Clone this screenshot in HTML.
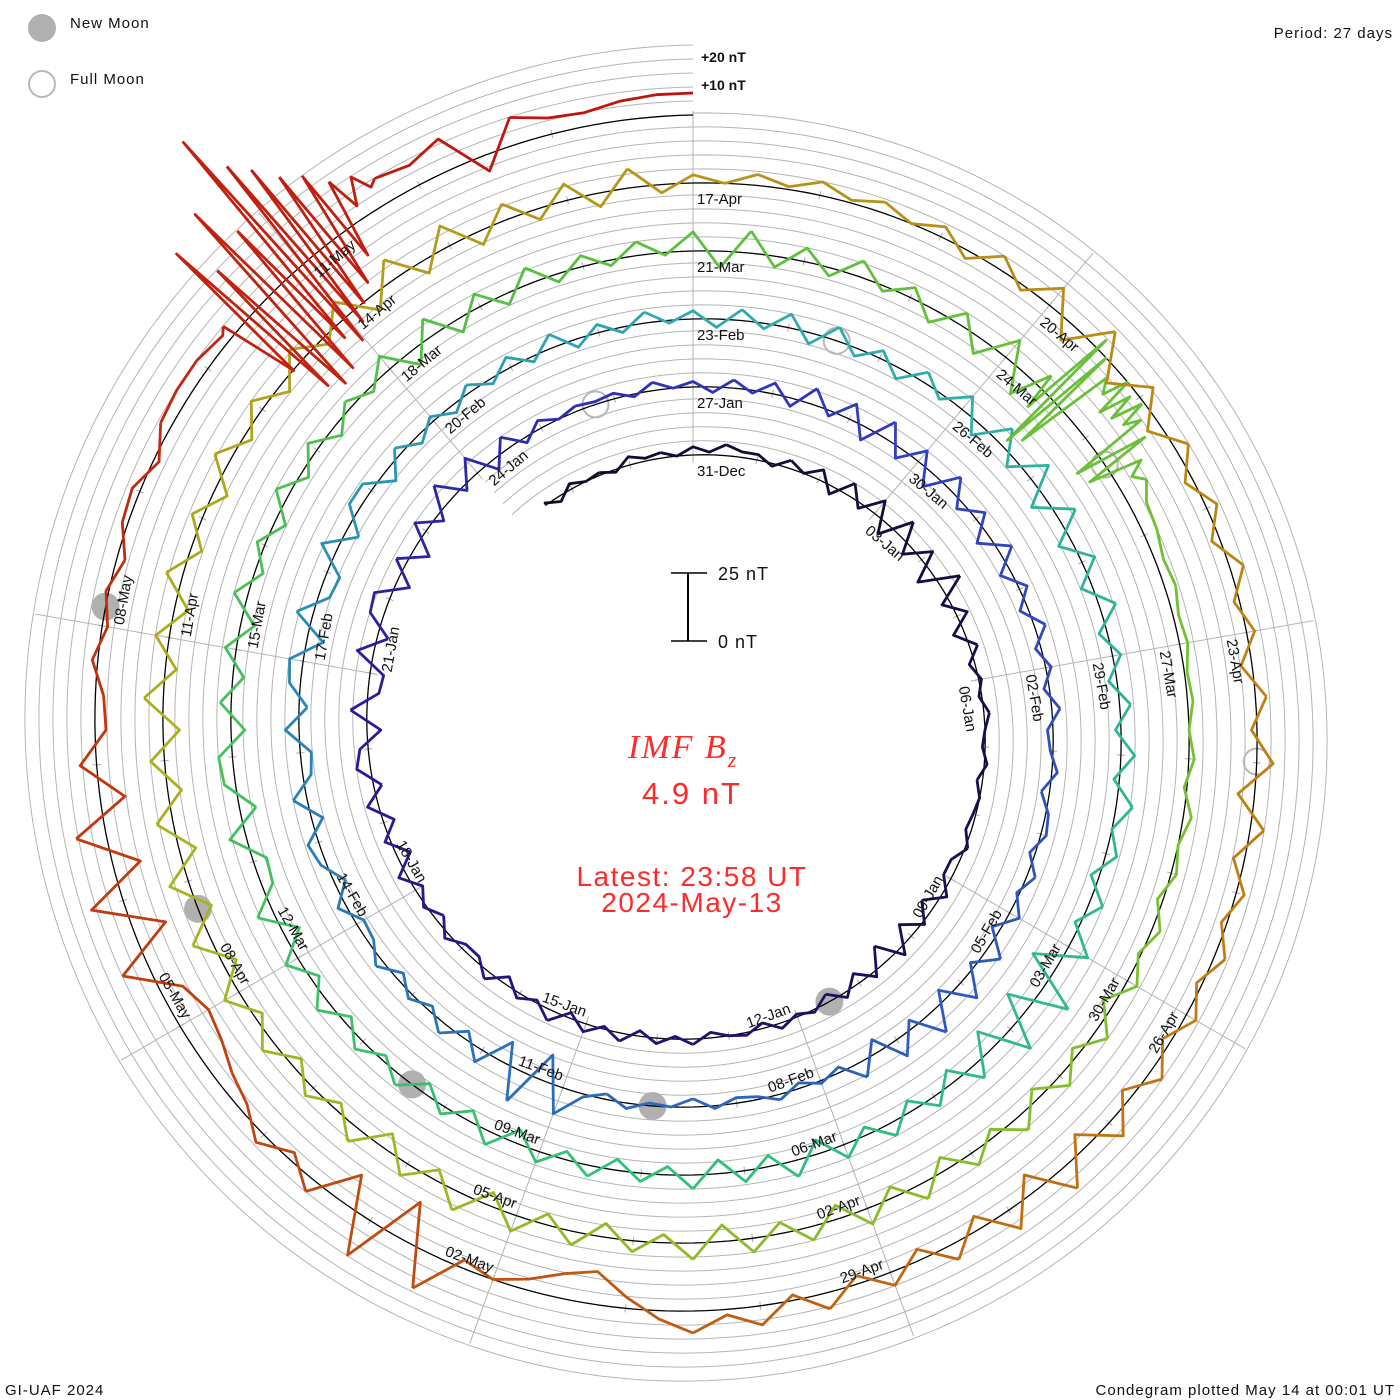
<!DOCTYPE html>
<html><head><meta charset="utf-8"><title>IMF Bz Condegram</title>
<style>
html,body{margin:0;padding:0;background:#fff;}
svg{display:block;font-family:"Liberation Sans",sans-serif;}
.lbl{font-size:15px;fill:#111;}
</style></head>
<body>
<svg id="chart" xmlns="http://www.w3.org/2000/svg" width="1400" height="1400" viewBox="0 0 1400 1400">
  <rect x="0" y="0" width="1400" height="1400" fill="#fff"/>
  <g id="grid"></g>
  <g id="moons"></g>
  <g id="baseline"></g>
  <g id="series"></g>
  <g id="labels"></g>

  <g>
    <circle cx="42" cy="28" r="14" fill="#b0b0b0"/>
    <text x="70" y="28" font-size="15" letter-spacing="1" fill="#111">New Moon</text>
    <circle cx="42" cy="84" r="13" fill="none" stroke="#b8b8b8" stroke-width="2"/>
    <text x="70" y="84" font-size="15" letter-spacing="1" fill="#111">Full Moon</text>
  </g>
  <text x="1393" y="38" font-size="15" letter-spacing="1" text-anchor="end" fill="#111">Period: 27 days</text>
  <text x="701" y="62" font-size="14" font-weight="bold" fill="#111">+20 nT</text>
  <text x="701" y="90" font-size="14" font-weight="bold" fill="#111">+10 nT</text>

  <g>
    <line x1="688" y1="573" x2="688" y2="641" stroke="#000" stroke-width="2"/>
    <line x1="671" y1="573" x2="707" y2="573" stroke="#000" stroke-width="1.5"/>
    <line x1="671" y1="641" x2="707" y2="641" stroke="#000" stroke-width="1.5"/>
    <text x="718" y="580" font-size="18" letter-spacing="1" fill="#111">25 nT</text>
    <text x="718" y="648" font-size="18" letter-spacing="1" fill="#111">0 nT</text>
  </g>

  <g fill="#ff2a2a">
    <text x="628" y="758" font-family="'Liberation Serif',serif" font-style="italic" font-size="34" letter-spacing="2">IMF B<tspan font-size="22" dy="9">z</tspan></text>
    <text x="692" y="804" font-size="31" letter-spacing="2" text-anchor="middle">4.9 nT</text>
    <text x="692" y="886" font-size="28" letter-spacing="1.5" text-anchor="middle">Latest: 23:58 UT</text>
    <text x="692" y="912" font-size="28" letter-spacing="1.5" text-anchor="middle">2024-May-13</text>
  </g>

  <text x="5" y="1395" font-size="15" letter-spacing="1" fill="#111">GI-UAF 2024</text>
  <text x="1395" y="1395" font-size="15" letter-spacing="1" text-anchor="end" fill="#111">Condegram plotted May 14 at 00:01 UT</text>
</svg>
<script>
// ---- data ----
const bzStart = -2.5;   // days since 31-Dec 00 UT
const bzStep = 0.25;    // days
const bzValues = [
 1,-2,2,0, 1,-1,3,1, 2,0,
 3,1,4,2, 2,-1,3,0, 4,-3,5,-2, 6,-5,7,-4, 5,-6,8,-3, 4,-4,3,-2, 1,-1,2,0, -1,1,-2,0, -1,-2,1,-3,
 -3,2,-5,1, -6,3,-7,2, -4,2,-3,1, -1,2,-2,1, 0,-2,2,-1, 2,-2,3,-1, 3,-2,4,-1, 2,-3,3,-2, -2,2,-3,1,
 -3,3,-5,2, -4,4,-3,5, 3,-5,6,-4, -5,6,-4,5, 6,-5,4,-6, 5,-3,8,-2, 7,-4,5,-2, 3,0,2,1, 2,-1,3,0,
 2,-2,3,-1, 4,-3,6,-2, 6,-5,7,-4, 5,-6,6,-3, 4,-5,5,-4, 3,-3,4,-2, 2,-2,3,-2, -1,2,-3,1, 2,-2,3,-1,
 4,-3,6,-2, 8,-4,9,-3, 7,-5,6,-2, 1,-2,2,-1, -2,1,-3,0, -1,2,-2,1, 10,-10,12,-8, 5,-3,4,-2, 2,-3,3,-2,
 -3,3,-4,2, 4,-4,5,-3, -4,5,-3,4, 5,-6,6,-4, -5,6,-5,4, 4,-5,3,-3, 2,-3,3,-2, 4,-2,5,-3, 3,-2,4,-1,
 3,-3,4,-2, 5,-4,5,-3, 3,-4,4,-2, 6,-5,7,-4, 8,-6,7,-5, 5,-4,6,-3, 3,-3,4,-2, 5,-2,6,0, 4,-3,5,-2,
 8,-10,12,-9, 10,-8,6,-5, 4,-4,5,-3, 5,-5,6,-4, 4,-5,5,-3, 3,-4,4,-3, 4,-5,5,-4, 3,-4,4,-2, 4,-3,5,-3,
 5,-6,6,-4, -5,6,-6,4, 5,-5,4,-4, 4,-5,5,-3, 3,-4,5,-3, 4,-4,3,-2, 6,-6,7,-5, 5,-4,6,-3, 4,-2,5,-1,
 7,-6,8,-4, 5,-3,6,-2, 4,-5,5,-6, 8,-9,10,-8, 15,10,8,6, 5,3,4,2, 3,1,2,0, 2,-1,3,0, 2,-2,3,-1,
 4,-4,5,-3, 5,-4,6,-3, 5,-5,6,-4, 6,-5,5,-4, 5,-6,6,-3, 4,-5,5,-4, 6,-5,7,-4, 5,-6,6,-3, 4,-4,5,-3,
 6,-5,7,-5, 7,-6,6,-5, 5,-6,7,-4, 5,-5,6,-4, 4,-5,6,-3, 5,-4,6,-3, 7,-6,8,-5, 8,-5,6,-4, 6,-5,7,-3,
 3,0,4,1, 5,1,4,0, 4,-3,5,-2, 8,-7,9,-6, 6,-5,5,-3, 4,-3,5,-2, 3,-4,4,-2, 6,-6,5,-4, 3,-2,4,-2,
 4,-3,5,-4, 7,-6,9,-7, 8,-5,6,-4, 5,-3,6,-2, 7,2,8,3, -4,-12,-9,-4, 0,-3,14,-15, 15,-12,5,-3, 4,-3,-6,-10,
 -12,-8,10,-12, 12,-10,11,-9, 6,-4,-3,2, -2,1,-3,2, 3,-2,4,5, 5,3,4,2, 8,6,10,10, 8,12,-6,10, 6,5,7,8,
 8
];
const stormMarT  = [84.40,84.45,84.50,84.55,84.60,84.65,84.72,84.80,84.85,84.90,84.95,85.00,85.05,85.10,85.15,85.22,85.28,85.35,85.42,85.50,85.58];
const stormMarBz = [6,-8,29,-22,25,-18,20,15,25,10,22,12,24,14,20,-10,18,-8,12,6,10];
const stormMayT  = [131.30,131.40,131.45,131.50,131.55,131.62,131.70,131.76,131.82,131.88,131.93,131.98,132.03,132.08,132.13,132.18,132.24,132.30,132.36,132.42,132.48,132.55,132.62,132.70];
const stormMayBz = [5,-25,35,-38,20,-42,40,-40,25,-30,62,-35,45,-30,38,-25,30,-20,25,-12,18,5,15,8];
const newMoonT  = [11.5, 40.96, 70.38, 99.76, 129.14];
const fullMoonT = [25.75, 55.52, 85.29, 114.99];
const labelText = ["31-Dec","03-Jan","06-Jan","09-Jan","12-Jan","15-Jan","18-Jan","21-Jan","24-Jan",
 "27-Jan","30-Jan","02-Feb","05-Feb","08-Feb","11-Feb","14-Feb","17-Feb","20-Feb",
 "23-Feb","26-Feb","29-Feb","03-Mar","06-Mar","09-Mar","12-Mar","15-Mar","18-Mar",
 "21-Mar","24-Mar","27-Mar","30-Mar","02-Apr","05-Apr","08-Apr","11-Apr","14-Apr",
 "17-Apr","20-Apr","23-Apr","26-Apr","29-Apr","02-May","05-May","08-May","11-May"];

// ---- geometry ----
const NS = "http://www.w3.org/2000/svg";
const CX = 693, CY = 730, R0 = 275, DR = 68, K = 2.75, P = 27;
function radius(t, v) { return R0 + DR * t / P + K * v; }
function pt(t, v) {
  const a = 2 * Math.PI * t / P, r = radius(t, v);
  return [CX + r * Math.sin(a), CY - r * Math.cos(a)];
}
function mk(tag, attrs) {
  const e = document.createElementNS(NS, tag);
  for (const k in attrs) e.setAttribute(k, attrs[k]);
  return e;
}
const colT = [-2.5, 10, 20, 30, 45, 54, 67, 80, 90, 100, 108, 117, 124, 130, 135];
const colH = ["#140a28","#1e0c5a","#2a1a9a","#3040c0","#2a78b8","#30aab0","#30c07c","#58c040","#7cc030","#a8b420","#b89418","#c07a12","#c04c10","#c02c10","#c01010"];
function hex2(h){return [parseInt(h.substr(1,2),16),parseInt(h.substr(3,2),16),parseInt(h.substr(5,2),16)];}
function colorAt(t) {
  if (t <= colT[0]) return colH[0];
  for (let i = 1; i < colT.length; i++) {
    if (t <= colT[i]) {
      const f = (t - colT[i-1]) / (colT[i] - colT[i-1]);
      const a = hex2(colH[i-1]), b = hex2(colH[i]);
      return "rgb(" + a.map((x, j) => Math.round(x + (b[j] - x) * f)).join(",") + ")";
    }
  }
  return colH[colH.length - 1];
}

// ---- grid ----
const grid = document.getElementById("grid");
function spiralPath(t0, t1, off) {
  let d = "";
  for (let t = t0; t <= t1 + 1e-9; t += 0.1) {
    const a = 2 * Math.PI * t / P, r = R0 + DR * t / P + off;
    d += (d ? "L" : "M") + (CX + r * Math.sin(a)).toFixed(1) + "," + (CY - r * Math.cos(a)).toFixed(1);
  }
  return d;
}
for (let k = 1; k <= 5; k++) {
  const p = mk("path", {d: spiralPath(k === 5 ? 108 : -3, 135, 14 * k), fill: "none", stroke: "#b4b4b4", "stroke-width": 1});
  
  
  grid.appendChild(p);
}
for (let j = 0; j < 9; j++) {
  const th = 40 * j, a = th * Math.PI / 180;
  const rin = R0 + DR * th / 360 - 8, rout = R0 + DR * (4 + th / 360) + 68;
  const l = mk("line", {x1: CX + rin * Math.sin(a), y1: CY - rin * Math.cos(a), x2: CX + rout * Math.sin(a), y2: CY - rout * Math.cos(a), stroke: "#b4b4b4", "stroke-width": 1});
  
  
  grid.appendChild(l);
}
let tickD = "";
for (let t = -2; t <= 135; t++) {
  const a = pt(t, -1.5), b = pt(t, 1.5);
  tickD += "M" + a[0].toFixed(1) + "," + a[1].toFixed(1) + "L" + b[0].toFixed(1) + "," + b[1].toFixed(1);
}
const ticks = mk("path", {d: tickD, stroke: "#aaa", "stroke-width": 1});


grid.appendChild(ticks);

// ---- moons ----
const moons = document.getElementById("moons");
newMoonT.forEach(t => {
  const p = pt(t, 0);
  const c = mk("circle", {cx: p[0], cy: p[1], r: 14, fill: "#b0b0b0"});
  
  
  moons.appendChild(c);
});
fullMoonT.forEach(t => {
  const p = pt(t, 0);
  const c = mk("circle", {cx: p[0], cy: p[1], r: 13, fill: "none", stroke: "#b8b8b8", "stroke-width": 2});
  
  
  moons.appendChild(c);
});

// ---- baseline ----
const base = mk("path", {d: spiralPath(-2.5, 135, 0), fill: "none", stroke: "#000", "stroke-width": 1.3});


document.getElementById("baseline").appendChild(base);

// ---- series ----
const storms = [[stormMarT, stormMarBz], [stormMayT, stormMayBz]];
let pts = [];
bzValues.forEach((v, i) => {
  const t = bzStart + i * bzStep;
  if (storms.some(s => t > s[0][0] && t < s[0][s[0].length - 1])) return;
  pts.push([t, v]);
});
storms.forEach(s => s[0].forEach((t, i) => pts.push([t, s[1][i]])));
pts.sort((a, b) => a[0] - b[0]);
const series = document.getElementById("series");
const CH = 4;
for (let i = 0; i < pts.length - 1; i += CH) {
  const seg = pts.slice(i, Math.min(i + CH + 1, pts.length));
  const tm = (seg[0][0] + seg[seg.length - 1][0]) / 2;
  const s = seg.map(q => pt(q[0], q[1]).map(x => x.toFixed(1)).join(",")).join(" ");
  const pl = mk("polyline", {points: s, fill: "none", stroke: colorAt(tm), "stroke-width": 2.8, "stroke-linejoin": "round"});
  
  
  series.appendChild(pl);
}

// ---- date labels ----
const labels = document.getElementById("labels");
labelText.forEach((txt, j) => {
  const t = 3 * j, th = (40 * j) % 360, r = radius(t, 0);
  const flip = th > 90 && th < 270;
  let e;
  if (!flip) {
    e = mk("text", {x: 4, y: 0, "text-anchor": "start", class: "lbl",
      transform: "translate(" + CX + "," + CY + ") rotate(" + th + ") translate(0," + (-(r - 21)) + ")"});
  } else {
    e = mk("text", {x: -4, y: 0, "text-anchor": "end", class: "lbl",
      transform: "translate(" + CX + "," + CY + ") rotate(" + th + ") translate(0," + (-(r - 6)) + ") rotate(180)"});
  }
  e.textContent = txt;
  
  
  labels.appendChild(e);
});
</script>
</body></html>
